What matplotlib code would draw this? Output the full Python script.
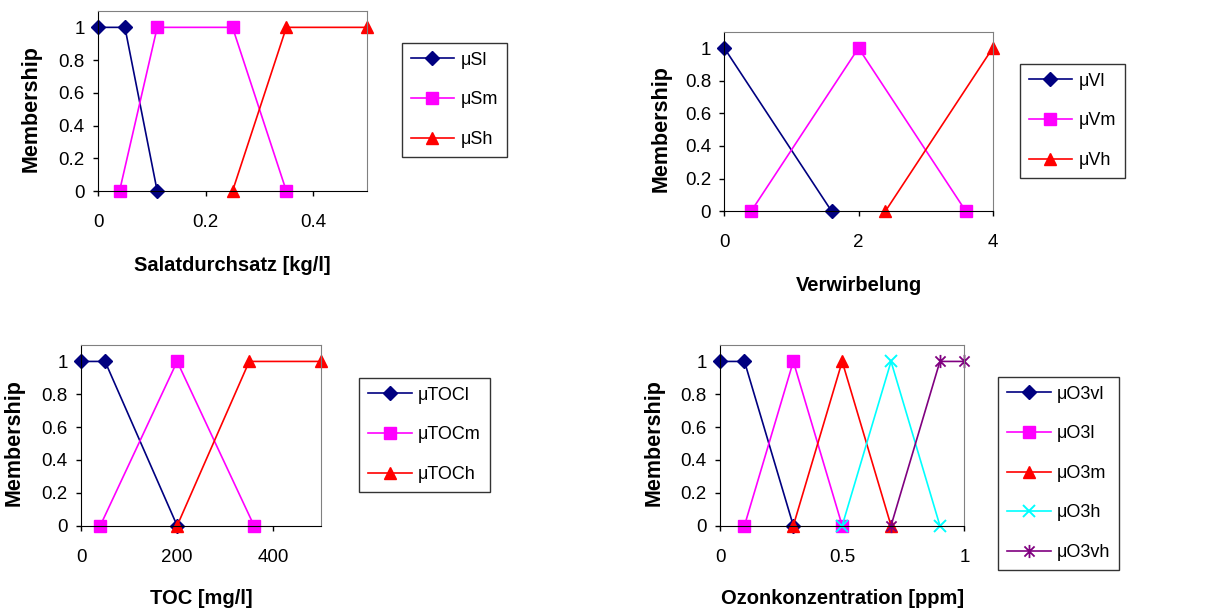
import matplotlib
matplotlib.use("Agg")
import matplotlib.pyplot as plt
from matplotlib.path import Path

plt.rcParams["font.family"] = ["Liberation Sans", "DejaVu Sans"]

# --- data -------------------------------------------------------------
sal_l_x = [0, 0.05, 0.11]
sal_l_y = [1, 1, 0]
sal_m_x = [0.04, 0.11, 0.25, 0.35]
sal_m_y = [0, 1, 1, 0]
sal_h_x = [0.25, 0.35, 0.5]
sal_h_y = [0, 1, 1]

ver_l_x = [0, 1.6]
ver_l_y = [1, 0]
ver_m_x = [0.4, 2, 3.6]
ver_m_y = [0, 1, 0]
ver_h_x = [2.4, 4]
ver_h_y = [0, 1]

toc_l_x = [0, 50, 200]
toc_l_y = [1, 1, 0]
toc_m_x = [40, 200, 360]
toc_m_y = [0, 1, 0]
toc_h_x = [200, 350, 500]
toc_h_y = [0, 1, 1]

o3_vl_x = [0, 0.1, 0.3]
o3_vl_y = [1, 1, 0]
o3_l_x = [0.1, 0.3, 0.5]
o3_l_y = [0, 1, 0]
o3_m_x = [0.3, 0.5, 0.7]
o3_m_y = [0, 1, 0]
o3_h_x = [0.5, 0.7, 0.9]
o3_h_y = [0, 1, 0]
o3_vh_x = [0.7, 0.9, 1.0]
o3_vh_y = [0, 1, 1]

y_ticks = [0, 0.2, 0.4, 0.6, 0.8, 1]
y_tick_labels = ["0", "0.2", "0.4", "0.6", "0.8", "1"]

# --- styles -----------------------------------------------------------
star = Path([(-1, -1), (1, 1), (-1, 1), (1, -1), (0, -1.3), (0, 1.3)],
            [Path.MOVETO, Path.LINETO, Path.MOVETO, Path.LINETO, Path.MOVETO, Path.LINETO])

STYLE_L = dict(color="#000080", marker="D", ms=7)
STYLE_M = dict(color="#FF00FF", marker="s", ms=8.5)
STYLE_H = dict(color="#FF0000", marker="^", ms=9)
STYLE_C = dict(color="#00FFFF", marker="x", ms=8.5, mew=1.4)
STYLE_P = dict(color="#800080", marker=star, ms=9.5, mew=1.3, mfc="none")


def panel(fig, rect, series, xlim, xticks, xtick_labels, xlabel,
          ylabel_x, xlabel_y, leg_xy):
    ax = fig.add_axes(rect)
    for x, y, lab, st in series:
        ax.plot(x, y, label=lab, lw=1.2, clip_on=False, **st)
    ax.set_xlim(*xlim)
    ax.set_ylim(0, 1.1)
    ax.set_xticks(xticks)
    ax.set_xticklabels(xtick_labels)
    ax.set_yticks(y_ticks)
    ax.set_yticklabels(y_tick_labels)
    ax.tick_params(axis="x", direction="out", length=3.5, width=1, pad=13, labelsize=13.5)
    ax.tick_params(axis="y", direction="out", length=3.5, width=1, pad=6, labelsize=13.5)
    for s in ("top", "right"):
        ax.spines[s].set_color("#808080")
    for s in ("left", "bottom"):
        ax.spines[s].set_color("black")
    ax.set_xlabel(xlabel, fontsize=14.5, fontweight="bold", va="top")
    ax.xaxis.set_label_coords(0.5, xlabel_y)
    ax.set_ylabel("Membership", fontsize=15.5, fontweight="bold")
    ax.yaxis.set_label_coords(ylabel_x, 0.46)
    leg = fig.legend(handles=ax.get_lines(), loc="upper left", bbox_to_anchor=leg_xy,
                     fontsize=13, frameon=True, fancybox=False, edgecolor="black",
                     handlelength=2.4, handletextpad=0.35, labelspacing=1.25,
                     borderpad=0.5, borderaxespad=0)
    leg.get_frame().set_linewidth(1)
    return ax


fig = plt.figure(figsize=(12.13, 6.14), dpi=100)

panel(fig, [0.0808, 0.6889, 0.2218, 0.2932],
      [(sal_l_x, sal_l_y, "μSl", STYLE_L),
       (sal_m_x, sal_m_y, "μSm", STYLE_M),
       (sal_h_x, sal_h_y, "μSh", STYLE_H)],
      (0, 0.5), [0, 0.2, 0.4], ["0", "0.2", "0.4"], "Salatdurchsatz [kg/l]",
      -0.21, -0.36, (0.3312, 0.9305))

panel(fig, [0.5971, 0.6559, 0.2213, 0.2925],
      [(ver_l_x, ver_l_y, "μVl", STYLE_L),
       (ver_m_x, ver_m_y, "μVm", STYLE_M),
       (ver_h_x, ver_h_y, "μVh", STYLE_H)],
      (0, 4), [0, 2, 4], ["0", "2", "4"], "Verwirbelung",
      -0.196, -0.36, (0.8406, 0.8963))

panel(fig, [0.0668, 0.1438, 0.1981, 0.2943],
      [(toc_l_x, toc_l_y, "μTOCl", STYLE_L),
       (toc_m_x, toc_m_y, "μTOCm", STYLE_M),
       (toc_h_x, toc_h_y, "μTOCh", STYLE_H)],
      (0, 500), [0, 200, 400], ["0", "200", "400"], "TOC [mg/l]",
      -0.233, -0.35, (0.2962, 0.3849))

panel(fig, [0.5936, 0.1438, 0.2014, 0.2943],
      [(o3_vl_x, o3_vl_y, "μO3vl", STYLE_L),
       (o3_l_x, o3_l_y, "μO3l", STYLE_M),
       (o3_m_x, o3_m_y, "μO3m", STYLE_H),
       (o3_h_x, o3_h_y, "μO3h", STYLE_C),
       (o3_vh_x, o3_vh_y, "μO3vh", STYLE_P)],
      (0, 1), [0, 0.5, 1], ["0", "0.5", "1"], "Ozonkonzentration [ppm]",
      -0.225, -0.35, (0.823, 0.3865))

fig.savefig("out.png", dpi=100)
